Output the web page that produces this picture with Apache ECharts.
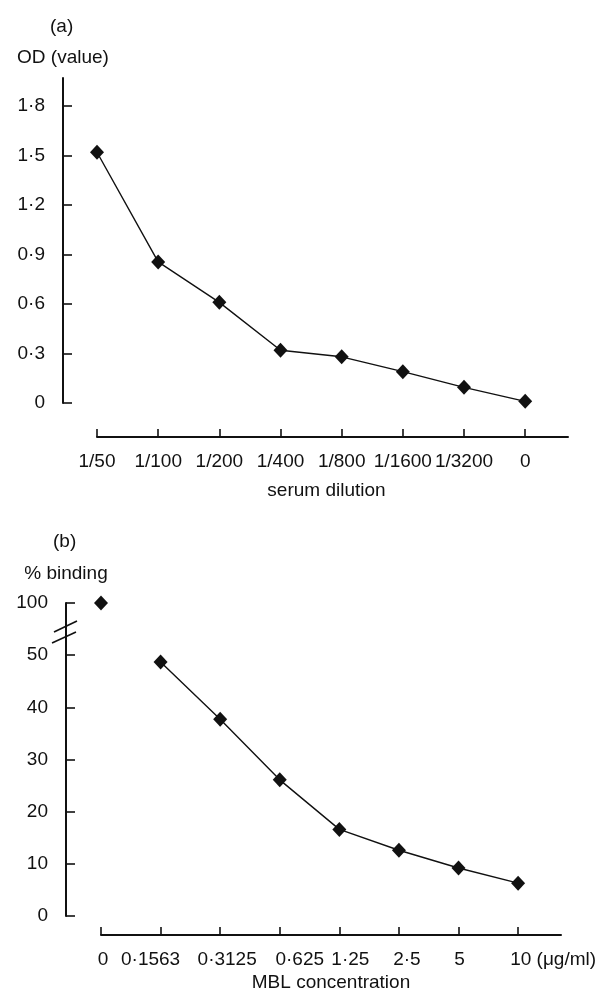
<html>
    <head>
        <meta charset="utf-8">
        <script src="https://cdn.jsdelivr.net/npm/echarts@6/dist/echarts.min.js"></script>
        <style>
            html, body { margin: 0; padding: 0; background: #fff; }
            #main { width: 607px; height: 1000px; }
        </style>
    </head>
    <body>
        <div id="main"></div>

        <script>

            // (a) OD value against serum dilution
            var dilutions = ['1/50', '1/100', '1/200', '1/400', '1/800', '1/1600', '1/3200', '0'];
            var odValues = [1.52, 0.855, 0.61, 0.32, 0.28, 0.19, 0.095, 0.01];
            var odTicks = [0, 0.3, 0.6, 0.9, 1.2, 1.5, 1.8];

            // (b) % binding against MBL concentration
            var mblLabels = ['0', '0·1563', '0·3125', '0·625', '1·25', '2·5', '5', '10'];
            var bindValues = [100, 48.7, 37.7, 26.1, 16.6, 12.6, 9.2, 6.3];
            var bindTicks = [0, 10, 20, 30, 40, 50, 100];

            var catIdx = [0, 1, 2, 3, 4, 5, 6, 7];

            var chart = echarts.init(document.getElementById('main'));

            var font = "'Liberation Sans', Arial, Helvetica, sans-serif";
            var black = '#111';
            var fs = 19;

            function dot(v) {
                return v === 0 ? '0' : String(v).replace('.', '·');
            }

            var axisLine = {show: true, onZero: false, lineStyle: {color: black, width: 2}};
            var axisTick = {show: true, inside: true, length: 9, lineStyle: {color: black, width: 1.6}};

            function yAxisOf(grid, max, ticks, name, offset, fmt) {
                return {
                    gridIndex: grid,
                    type: 'value',
                    min: 0,
                    max: max,
                    offset: offset,
                    axisLine: axisLine,
                    axisTick: Object.assign({customValues: ticks}, axisTick),
                    axisLabel: {
                        customValues: ticks,
                        margin: 18,
                        color: black,
                        fontFamily: font,
                        fontSize: fs,
                        formatter: fmt
                    },
                    splitLine: {show: false},
                    name: name,
                    nameLocation: 'end',
                    nameGap: 11,
                    nameTextStyle: {color: black, fontFamily: font, fontSize: fs, align: 'center'}
                };
            }

            function xAxisOf(grid, max, offset, name, nameGap, margin, fmt, rich) {
                return {
                    gridIndex: grid,
                    type: 'value',
                    min: 0,
                    max: max,
                    offset: offset,
                    axisLine: axisLine,
                    axisTick: Object.assign({customValues: catIdx}, axisTick, {length: 8}),
                    axisLabel: {
                        customValues: catIdx,
                        margin: margin,
                        color: black,
                        fontFamily: font,
                        fontSize: fs,
                        formatter: fmt,
                        rich: rich
                    },
                    splitLine: {show: false},
                    name: name,
                    nameLocation: 'middle',
                    nameGap: nameGap,
                    nameTextStyle: {color: black, fontFamily: font, fontSize: fs}
                };
            }

            var yA = yAxisOf(0, 1.97, odTicks, 'OD (value)', 34, function (v) { return dot(+v.toFixed(1)); });
            var yB = yAxisOf(1, 100, bindTicks, '% binding', 35, function (v) { return String(Math.round(v)); });
            yB.breaks = [{start: 50, end: 99, gap: 9}];
            yB.breakArea = {show: false};
            yB.nameGap = 20;

            var xA = xAxisOf(0, 7.7, 34, 'serum dilution', 44, 15, function (v) {
                return dilutions[Math.round(v)];
            });
            xA.nameTextStyle.padding = [0, 12, 0, 0];

            // the printed labels on (b) sit a little off their ticks
            var shift = [2, -10, 7, 20, 11, 8, 1, 0];
            var richB = {};
            shift.forEach(function (d, i) {
                var pad = d >= 0 ? [0, 0, 0, 2 * d] : [0, -2 * d, 0, 0];
                if (i === 7) {
                    pad = [0, 0, 0, 70];
                }
                richB['s' + i] = {padding: pad, color: black, fontFamily: font, fontSize: fs};
            });
            var xB = xAxisOf(1, 7.72, 19, 'MBL concentration', 38, 15, function (v) {
                var i = Math.round(v);
                var txt = i === 7 ? mblLabels[i] + ' (μg/ml)' : mblLabels[i];
                return '{s' + i + '|' + txt + '}';
            }, richB);

            var marker = {
                symbol: 'diamond',
                symbolSize: [14, 15],
                itemStyle: {color: black, opacity: 1},
                lineStyle: {color: black, width: 1.4}
            };

            chart.setOption({
                animation: false,
                backgroundColor: '#fff',
                grid: [
                    {left: 97, top: 78, width: 471, height: 325},
                    {left: 101, top: 603, width: 460, height: 313}
                ],
                xAxis: [xA, xB],
                yAxis: [yA, yB],
                series: [
                    Object.assign({
                        type: 'line',
                        xAxisIndex: 0,
                        yAxisIndex: 0,
                        data: odValues.map(function (v, i) { return [i, v]; })
                    }, marker),
                    Object.assign({
                        type: 'line',
                        xAxisIndex: 1,
                        yAxisIndex: 1,
                        data: bindValues.slice(1).map(function (v, i) { return [i + 1, v]; })
                    }, marker),
                    Object.assign({
                        type: 'scatter',
                        xAxisIndex: 1,
                        yAxisIndex: 1,
                        data: [[0, bindValues[0]]]
                    }, marker)
                ]
            });

            // the printed axis runs straight through the break, crossed by two slashes
            var y50 = chart.convertToPixel({yAxisIndex: 1}, 50);
            var y100 = chart.convertToPixel({yAxisIndex: 1}, 100);
            var ax = 101 - 35;

            chart.setOption({
                graphic: [
                    {type: 'text', left: 50, top: 17, style: {text: '(a)', fill: black, font: fs + 'px ' + font}},
                    {type: 'text', left: 53, top: 532, style: {text: '(b)', fill: black, font: fs + 'px ' + font}},
                    {type: 'line', shape: {x1: ax, y1: y100, x2: ax, y2: y50}, style: {stroke: black, lineWidth: 2}},
                    {type: 'line', shape: {x1: 54, y1: 632, x2: 77, y2: 621}, style: {stroke: black, lineWidth: 1.6}},
                    {type: 'line', shape: {x1: 52, y1: 643, x2: 76, y2: 632}, style: {stroke: black, lineWidth: 1.6}}
                ]
            });

        </script>
    </body>
</html>
